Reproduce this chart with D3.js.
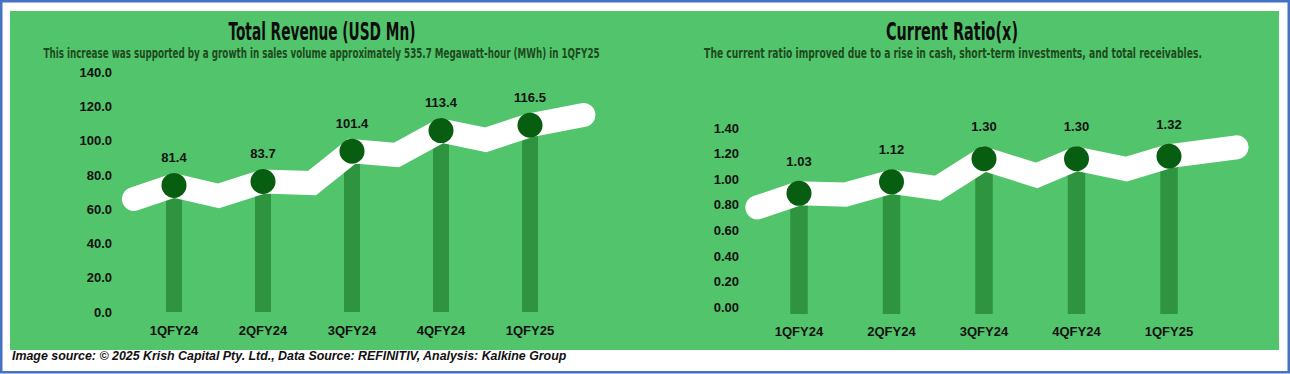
<!DOCTYPE html>
<html>
<head>
<meta charset="utf-8">
<script src="https://cdn.jsdelivr.net/npm/d3@7"></script>
<style>
  body { margin: 0; background: #fff; }
  svg { display: block; }
</style>
</head>
<body>
<svg id="chart" width="1290" height="374"></svg>
<script>
"use strict";

var quarters = ["1QFY24", "2QFY24", "3QFY24", "4QFY24", "1QFY25"];
var revenue = [81.4, 83.7, 101.4, 113.4, 116.5];
var currentRatio = [1.03, 1.12, 1.30, 1.30, 1.32];
var revenueTicks = [0, 20, 40, 60, 80, 100, 120, 140];
var ratioTicks = [0, 0.2, 0.4, 0.6, 0.8, 1.0, 1.2, 1.4];

// white ribbon drawn behind the markers: [position on category axis, value]
var revenueRibbon = [[-0.45, 73.5], [0, 81.4], [0.5, 75.3], [1, 83.7], [1.55, 82.8], [2, 101.4],
  [2.5, 99.2], [3, 113.4], [3.5, 108.0], [4, 116.5], [4.6, 122.5]];
var ratioRibbon = [[-0.45, 0.92], [0, 1.03], [0.5, 1.02], [1, 1.12], [1.5, 1.07], [2, 1.30],
  [2.57, 1.17], [3, 1.30], [3.54, 1.22], [4, 1.32], [4.73, 1.39]];

var titleFont = "'Liberation Sans Narrow', 'DejaVu Sans Condensed', Roboto, sans-serif";
var labelFont = "'Liberation Sans', Arial, sans-serif";

var svg = d3.select("#chart");

// scale a text horizontally so it spans `width` px (the original uses a condensed face)
function fitText(sel, cx, y, width, anchor) {
  var natural = sel.node().getComputedTextLength();
  var sx = width / natural;
  sel.attr("text-anchor", anchor || "middle")
    .attr("transform", "translate(" + cx + "," + y + ") scale(" + sx + ",1)");
  return sel;
}

// outer frame + green card
svg.append("rect")
  .attr("x", 1.25).attr("y", 1.25)
  .attr("width", 1287.5).attr("height", 371)
  .style("fill", "#fff")
  .style("stroke", "#4472c4")
  .style("stroke-width", 2.5);

svg.append("rect")
  .attr("x", 10).attr("y", 11)
  .attr("width", 1269).attr("height", 339)
  .style("fill", "#52c46b");

function drawPanel(p) {
  var g = svg.append("g");

  var x = d3.scalePoint().domain(quarters).range(p.xRange);
  var xPos = d3.scaleLinear().domain([0, quarters.length - 1]).range(p.xRange);
  var yAxis = d3.scaleLinear().domain(p.domain).range(p.axisRange);
  var yMark = d3.scaleLinear().domain(p.domain).range(p.markRange);

  // title and note
  var title = g.append("text")
    .style("font-family", titleFont)
    .style("font-weight", "700")
    .style("font-size", "24px")
    .style("fill", "#0d0d0d")
    .text(p.title);
  fitText(title, p.titleX, 40, p.titleLen);

  var note = g.append("text")
    .style("font-family", titleFont)
    .style("font-weight", "700")
    .style("font-size", "14px")
    .style("fill", "#1e4a1e")
    .text(p.note);
  fitText(note, p.noteX, 58, p.noteLen);

  // y labels, no axis line
  var axis = d3.axisLeft(yAxis)
    .tickValues(p.ticks)
    .tickFormat(d3.format(p.fmt))
    .tickSize(0)
    .tickPadding(0);
  var axisG = g.append("g")
    .attr("transform", "translate(" + p.axisX + ",0)")
    .call(axis);
  axisG.select(".domain").remove();
  axisG.selectAll("text")
    .style("font-family", labelFont)
    .style("font-weight", "700")
    .style("font-size", "13px")
    .style("fill", "#111");

  // stems
  g.selectAll("rect.stem")
    .data(p.values)
    .enter()
    .append("rect")
    .attr("class", "stem")
    .attr("x", function (d, i) { return x(quarters[i]) - p.barW / 2; })
    .attr("width", p.barW)
    .attr("y", function (d) { return yMark(d); })
    .attr("height", function (d) { return p.barBase - yMark(d); })
    .style("fill", "#2e943f");

  // ribbon
  var line = d3.line()
    .x(function (d) { return xPos(d[0]); })
    .y(function (d) { return yMark(d[1]); });
  g.append("path")
    .datum(p.ribbon)
    .attr("d", line)
    .style("fill", "none")
    .style("stroke", "#fff")
    .style("stroke-width", 24)
    .style("stroke-linecap", "round")
    .style("stroke-linejoin", "miter");

  // markers
  g.selectAll("circle")
    .data(p.values)
    .enter()
    .append("circle")
    .attr("cx", function (d, i) { return x(quarters[i]); })
    .attr("cy", function (d) { return yMark(d); })
    .attr("r", 12.5)
    .style("fill", "#075d10");

  // value labels
  g.selectAll("text.val")
    .data(p.values)
    .enter()
    .append("text")
    .attr("class", "val")
    .attr("x", function (d, i) { return x(quarters[i]); })
    .attr("y", function (d) { return yMark(d) - p.labelGap; })
    .attr("text-anchor", "middle")
    .attr("dominant-baseline", "middle")
    .style("font-family", labelFont)
    .style("font-weight", "700")
    .style("font-size", "13px")
    .style("fill", "#111")
    .text(function (d) { return d3.format(p.fmt)(d); });

  // category labels
  g.selectAll("text.cat")
    .data(quarters)
    .enter()
    .append("text")
    .attr("class", "cat")
    .attr("x", function (d) { return x(d); })
    .attr("y", p.catY)
    .attr("text-anchor", "middle")
    .attr("dominant-baseline", "middle")
    .style("font-family", labelFont)
    .style("font-weight", "700")
    .style("font-size", "13px")
    .style("fill", "#111")
    .text(function (d) { return d; });
}

drawPanel({
  title: "Total Revenue (USD Mn)",
  note: "This increase was supported by a growth in sales volume approximately 535.7 Megawatt-hour (MWh) in 1QFY25",
  titleX: 322, titleLen: 187,
  noteX: 321.5, noteLen: 557,
  values: revenue, ribbon: revenueRibbon, ticks: revenueTicks, fmt: ".1f",
  domain: [0, 140],
  axisRange: [312, 72], markRange: [325, 85],
  axisX: 112, xRange: [174, 530],
  barW: 16, barBase: 312, labelGap: 27, catY: 332
});

drawPanel({
  title: "Current Ratio(x)",
  note: "The current ratio improved due to a rise in cash, short-term investments, and total receivables.",
  titleX: 952, titleLen: 132,
  noteX: 953, noteLen: 498,
  values: currentRatio, ribbon: ratioRibbon, ticks: ratioTicks, fmt: ".2f",
  domain: [0, 1.4],
  axisRange: [307, 128], markRange: [325, 146],
  axisX: 739, xRange: [799, 1169],
  barW: 17.5, barBase: 314, labelGap: 31, catY: 333
});

// source line
var source = svg.append("text")
  .style("font-family", labelFont)
  .style("font-weight", "700")
  .style("font-style", "italic")
  .style("font-size", "12px")
  .style("fill", "#111")
  .text("Image source: \u00a9 2025 Krish Capital Pty. Ltd., Data Source: REFINITIV, Analysis: Kalkine Group");
fitText(source, 12, 360, 555, "start");
</script>
</body>
</html>
